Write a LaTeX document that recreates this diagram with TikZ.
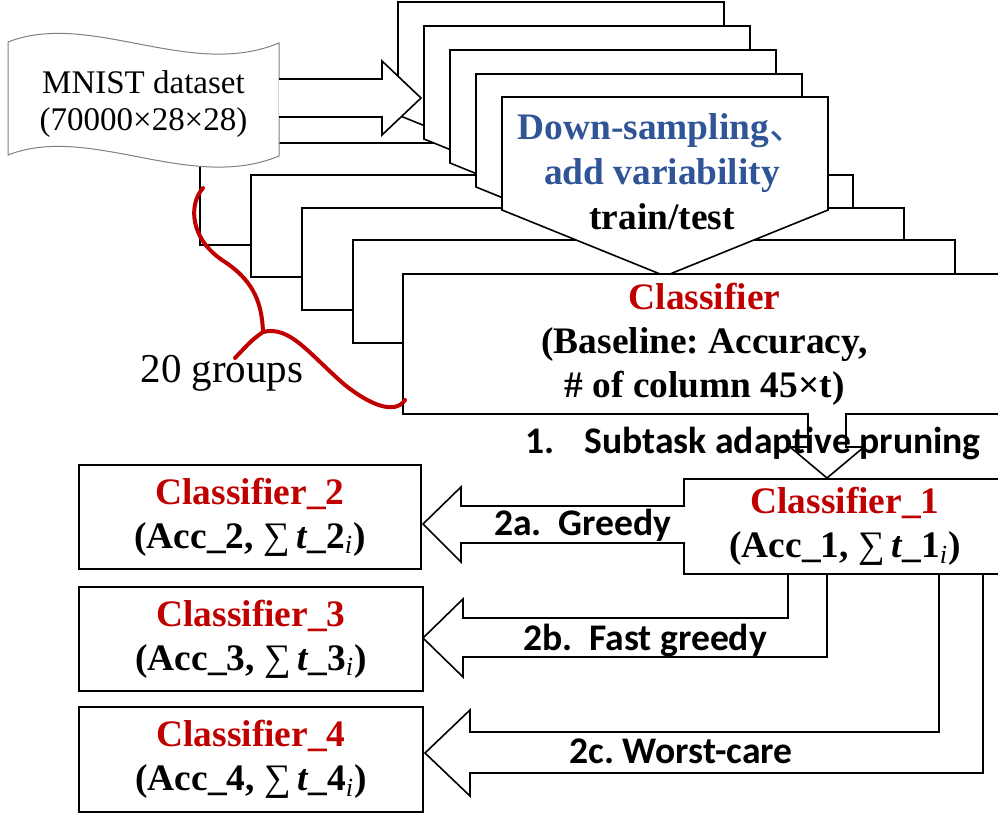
\documentclass[tikz,border=0pt]{standalone}
\usepackage{fontspec}
\setmainfont{Liberation Serif}
\newfontfamily\calibri{Carlito}
\newfontfamily\cjkfont{Noto Sans CJK SC}
\usetikzlibrary{calc}
\definecolor{clsred}{RGB}{192,0,0}
\definecolor{prepblue}{RGB}{47,85,151}
\frenchspacing

\begin{document}
\begin{tikzpicture}[
  x=0.5pt, y=-0.5pt,
  stackbox/.style={draw, fill=white, line width=0.9pt},
  calloutbox/.style={draw, fill=white, line width=0.8pt, line join=miter},
  resbox/.style={draw, fill=white, line width=1pt, inner sep=0pt, align=center,
    font=\bfseries\fontsize{18.7}{22}\selectfont,
    execute at begin node={\rule{0pt}{19pt}}},
  blockarrow/.style={draw, fill=white, line width=0.8pt, line join=miter},
  steplabel/.style={font=\calibri\bfseries\fontsize{18.8}{20}\selectfont, anchor=base},
  bracepath/.style={draw=clsred, line width=2pt, line cap=round}
]
  \useasboundingbox (0,0) rectangle (998,814);
  \clip (0,0) rectangle (998,814);

  % 20 classifier groups (back of the stack)
  \draw[stackbox] (200,143) rectangle (802,245);
  \draw[stackbox] (251,175) rectangle (853,277);
  \draw[stackbox] (302,208) rectangle (904,310);
  \draw[stackbox] (353,240) rectangle (955,343);

  % down-sampling callouts
  \draw[calloutbox] (398,2) -- ++(326,0) -- ++(0,113) -- ++(-163,66) -- ++(-163,-66) -- cycle;
  \draw[calloutbox] (424,26) -- ++(326,0) -- ++(0,113) -- ++(-163,66) -- ++(-163,-66) -- cycle;
  \draw[calloutbox] (450,50) -- ++(326,0) -- ++(0,113) -- ++(-163,66) -- ++(-163,-66) -- cycle;
  \draw[calloutbox] (476,74) -- ++(326,0) -- ++(0,113) -- ++(-163,66) -- ++(-163,-66) -- cycle;
  \draw[calloutbox] (502,97) -- ++(326,0) -- ++(0,113) -- ++(-163,66) -- ++(-163,-66) -- cycle;
  \node[align=center, font=\bfseries\fontsize{18.7}{22.5}\selectfont] (prep) at (662,172)
    {\textcolor{prepblue}{Down-sampling{\cjkfont\mdseries 、}}\\\textcolor{prepblue}{add variability}\\train/test};

  % classifiers
  \node[resbox, minimum width=301.5pt, minimum height=70pt] (base) at (704.5,344)
    {\textcolor{clsred}{Classifier}\\(Baseline: Accuracy,\\\# of column 45×t)};
  \node[resbox, minimum width=161pt, minimum height=47.5pt] (cls1) at (845,526.5)
    {\textcolor{clsred}{Classifier\_1}\\(Acc\_1, {\mdseries ∑}\,\textit{t}\_1\textsubscript{\mdseries\itshape i})};
  \node[resbox, minimum width=171pt, minimum height=52pt] (cls2) at (250,517)
    {\textcolor{clsred}{Classifier\_2}\\(Acc\_2, {\mdseries ∑}\,\textit{t}\_2\textsubscript{\mdseries\itshape i})};
  \node[resbox, minimum width=172pt, minimum height=52pt] (cls3) at (251,639)
    {\textcolor{clsred}{Classifier\_3}\\(Acc\_3, {\mdseries ∑}\,\textit{t}\_3\textsubscript{\mdseries\itshape i})};
  \node[resbox, minimum width=172pt, minimum height=52.5pt] (cls4) at (251,759.5)
    {\textcolor{clsred}{Classifier\_4}\\(Acc\_4, {\mdseries ∑}\,\textit{t}\_4\textsubscript{\mdseries\itshape i})};

  % dataset
  \draw[draw=black!50, fill=white, line width=0.5pt]
    (8,42) .. controls (90,10) and (190,80) .. (279,43) -- (279,156)
    .. controls (190,193) and (90,123) .. (8,155) -- cycle;
  \node[align=center, font=\fontsize{16.5}{18.5}\selectfont] (mnist) at (143.5,104)
    {MNIST dataset\\(70000×28×28)};
  \coordinate (tipM) at (421,98);
  \draw[blockarrow] ($(tipM)+(-142,-19)$) -- ($(tipM)+(-39,-19)$) -- ($(tipM)+(-39,-37)$) -- (tipM)
    -- ($(tipM)+(-39,37)$) -- ($(tipM)+(-39,19)$) -- ($(tipM)+(-142,19)$);

  % groups brace
  \draw[bracepath] (203,188) .. controls (188,205) and (190,240) .. (225,262)
    .. controls (255,282) and (262,305) .. (263,332)
    .. controls (290,325) and (310,355) .. (345,385)
    .. controls (370,405) and (395,415) .. (405,400);
  \draw[bracepath] (263,332) .. controls (252,340) .. (235,358);
  \node[anchor=base, font=\fontsize{20.5}{22}\selectfont] (groups) at (222,382) {20 groups};

  % step 1
  \coordinate (tip1) at ($(cls1.north)+(-18,0)$);
  \draw[blockarrow] ($(tip1)+(-19,-65)$) -- ($(tip1)+(-19,-31)$) -- ($(tip1)+(-37,-31)$) -- (tip1)
    -- ($(tip1)+(37,-31)$) -- ($(tip1)+(19,-31)$) -- ($(tip1)+(19,-65)$);
  \node[steplabel] (step1) at (753,453) {1.\hspace{0.8em}Subtask adaptive pruning};

  % step 2a
  \coordinate (tipA) at ($(cls2.east)+(1,7)$);
  \draw[blockarrow] ($(tipA)+(262,-18)$) -- ($(tipA)+(38,-18)$) -- ($(tipA)+(38,-37)$) -- (tipA)
    -- ($(tipA)+(38,38)$) -- ($(tipA)+(38,19)$) -- ($(tipA)+(262,19)$);
  \node[steplabel] (step2a) at (583,535) {2a.\ \ Greedy};

  % step 2b
  \coordinate (tipB) at ($(cls3.east)+(-1,-1)$);
  \draw[blockarrow] ($(cls1.south)+(-57,0)$) |- ($(tipB)+(40,-20)$) -- ($(tipB)+(40,-39)$) -- (tipB)
    -- ($(tipB)+(40,39)$) -- ($(tipB)+(40,19)$) -| ($(cls1.south)+(-18,0)$);
  \node[steplabel] (step2b) at (645,650) {2b.\ \ Fast greedy};

  % step 2c
  \coordinate (tipC) at ($(cls4.east)+(1,-6.5)$);
  \draw[blockarrow] ($(cls1.south)+(94,0)$) |- ($(tipC)+(45,-21)$) -- ($(tipC)+(45,-43)$) -- (tipC)
    -- ($(tipC)+(45,43)$) -- ($(tipC)+(45,20)$) -| ($(cls1.south)+(138,0)$);
  \node[steplabel] (step2c) at (681,763) {2c. Worst-care};
\end{tikzpicture}
\end{document}
